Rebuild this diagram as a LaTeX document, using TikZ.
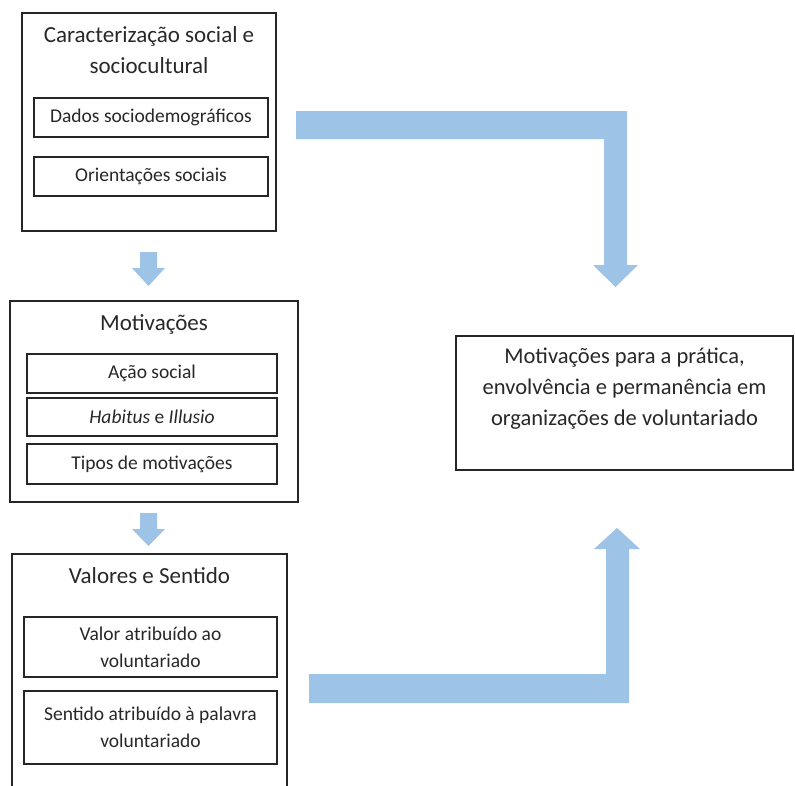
\documentclass[tikz,border=0pt]{standalone}
\usepackage{fontspec}
\setmainfont{Carlito}
\definecolor{arrowblue}{RGB}{157,195,230}
\definecolor{txt}{RGB}{40,40,40}
\tikzset{
  frame/.style={draw=black!85, line width=1.3pt, inner sep=0pt, text=txt},
  titletext/.style={text=txt, align=center, inner sep=0pt, font=\fontsize{23}{31}\selectfont},
  itemtext/.style={frame, align=center, font=\fontsize{19.5}{27}\selectfont},
  blockarrow/.style={fill=arrowblue, draw=none}
}
\begin{document}
\begin{tikzpicture}[x=1pt,y=-1pt]
\useasboundingbox (0,0) rectangle (795,785);
\clip (0,0) rectangle (795,785);
\fill[white] (0,0) rectangle (795,785);

% Box 1
\node[frame, minimum width=254pt, minimum height=218pt] (b1) at (149,122) {};
\node[titletext] (t1) at (149,50.5) {Caracterização social e\\sociocultural};
\node[itemtext, minimum width=234pt, minimum height=39pt] (dados) at (151,117.5) {Dados sociodemográficos};
\node[itemtext, minimum width=234pt, minimum height=39pt] (orient) at (151,176.5) {Orientações sociais};

% Box 2
\node[frame, minimum width=288pt, minimum height=201pt] (b2) at (154,401.5) {};
\node[titletext] (t2) at (154,324) {Motivações};
\node[itemtext, minimum width=250pt, minimum height=39pt] (acao) at (152,373.5) {Ação social};
\node[itemtext, minimum width=250pt, minimum height=38pt] (habitus) at (152,417) {\textit{Habitus} e \textit{Illusio}};
\node[itemtext, minimum width=250pt, minimum height=40pt] (tipos) at (152,464) {Tipos de motivações};

% Box 3 (cut by the page bottom)
\node[frame, minimum width=275pt, minimum height=260pt] (b3) at (149.5,684) {};
\node[titletext] (t3) at (149.5,576) {Valores e Sentido};
\node[itemtext, minimum width=253pt, minimum height=60pt] (valor) at (150.5,647) {Valor atribuído ao\\voluntariado};
\node[itemtext, minimum width=253pt, minimum height=73pt] (sentido) at (150.5,727.5) {Sentido atribuído à palavra\\voluntariado};

% Target box
\node[frame, minimum width=337pt, minimum height=134pt] (target) at (624.5,403) {};
\node[titletext, font=\fontsize{22.5}{31}\selectfont] (tt) at (624.5,389) {Motivações para a prática,\\envolvência e permanência em\\organizações de voluntariado};

% Small arrows
\fill[blockarrow] (140,252) -- (157,252) -- (157,268) -- (165,268) -- (148.5,286) -- (132,268) -- (140,268) -- cycle;
\fill[blockarrow] (140,513) -- (157,513) -- (157,529) -- (165,529) -- (148.5,546) -- (132,529) -- (140,529) -- cycle;

% Big bent arrows
\fill[blockarrow] (296,111) -- (627,111) -- (627,265) -- (638,265) -- (615.5,287) -- (593,265) -- (604,265) -- (604,139) -- (296,139) -- cycle;
\fill[blockarrow] (309,703) -- (629,703) -- (629,549) -- (640,549) -- (617,528) -- (594,549) -- (606,549) -- (606,674) -- (309,674) -- cycle;
\end{tikzpicture}
\end{document}
